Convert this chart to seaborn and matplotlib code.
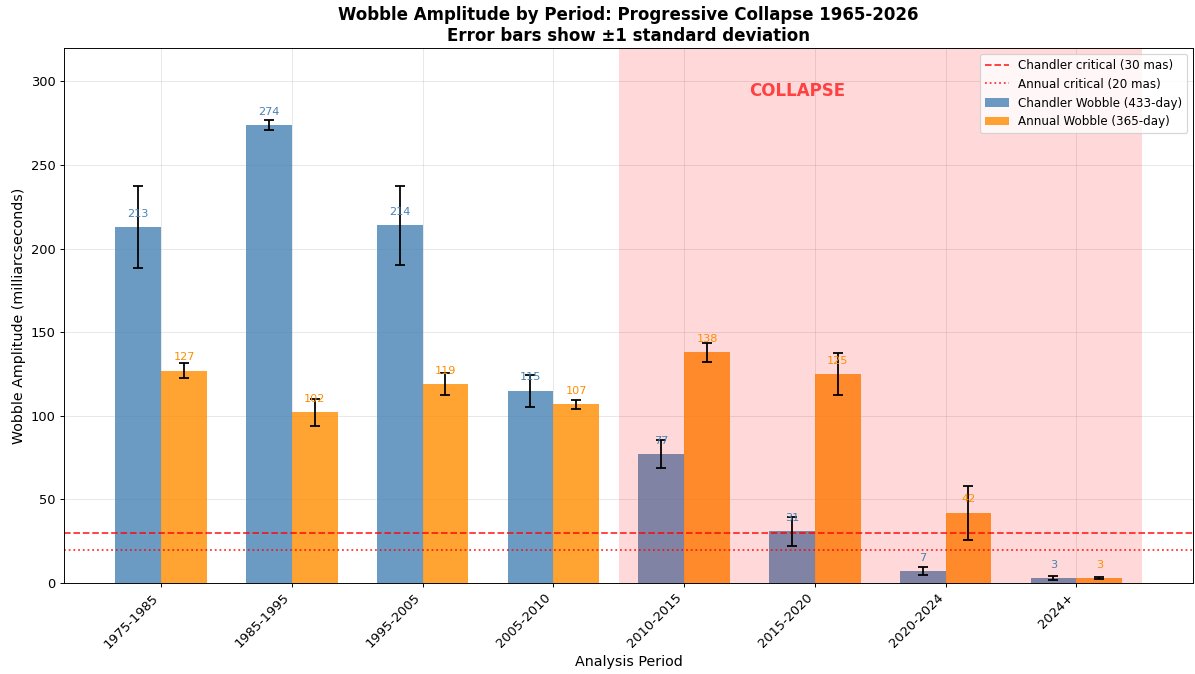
import matplotlib
matplotlib.use("Agg")
import matplotlib.pyplot as plt
from matplotlib.lines import Line2D
from matplotlib.patches import Patch
import seaborn as sns
import pandas as pd

# Analysis periods and wobble amplitudes (milliarcseconds)
periods = ["1975-1985", "1985-1995", "1995-2005", "2005-2010",
           "2010-2015", "2015-2020", "2020-2024", "2024+"]
chandler = [213, 274, 214, 115, 77, 31, 7, 3]
chandler_sd = [24.5, 3, 23.5, 9.5, 8.5, 8.7, 2.5, 1.1]
annual = [127, 102, 119, 107, 138, 125, 42, 3]
annual_sd = [4.4, 8, 6.5, 2.7, 5.6, 12.6, 16, 0.4]

series_names = ["Chandler Wobble (433-day)", "Annual Wobble (365-day)"]
series_colors = ["steelblue", "darkorange"]
chandler_critical = 30
annual_critical = 20

df = pd.DataFrame({
    "period": periods * 2,
    "series": [series_names[0]] * len(periods) + [series_names[1]] * len(periods),
    "value": chandler + annual,
})

DPI = 1195 / 14
fig, ax = plt.subplots(figsize=(14, 674 / DPI), dpi=DPI)
fig.subplots_adjust(left=64 / 1195, right=1193 / 1195,
                    top=1 - 48 / 674, bottom=1 - 583 / 674)

sns.barplot(data=df, x="period", y="value", hue="series", order=periods,
            hue_order=series_names, palette=series_colors, width=0.7, gap=0,
            saturation=1, alpha=0.8, errorbar=None, legend=False, ax=ax)

# Error bars and value labels on top of each bar
for cont, vals, sds, col in zip(ax.containers, [chandler, annual],
                                [chandler_sd, annual_sd], series_colors):
    xs = [b.get_x() + b.get_width() / 2 for b in cont]
    ax.errorbar(xs, vals, yerr=sds, fmt="none", ecolor="black",
                elinewidth=1.5, capsize=4, capthick=1.5, zorder=3)
    for x, v in zip(xs, vals):
        ax.text(x, v + 5, f"{v:.0f}", ha="center", va="bottom",
                fontsize=9.5, color=col, zorder=4)

# Critical thresholds
ax.axhline(chandler_critical, color="red", linestyle="--", linewidth=1.5,
           alpha=0.8, zorder=2.5)
ax.axhline(annual_critical, color="red", linestyle=":", linewidth=1.5,
           alpha=0.8, zorder=2.5)

# Collapse period shading
ax.axvspan(3.5, 7.5, color="red", alpha=0.15, linewidth=0, zorder=2)
ax.text(4.5, 294, "COLLAPSE", ha="left", va="center", fontsize=14,
        fontweight="bold", color="red", alpha=0.7)

ax.set_ylim(0, 320)
ax.set_xlim(-0.35 - 0.3925, 7.5 + 0.3925)
ax.set_xticks(range(len(periods)))
ax.set_xticklabels(periods, rotation=45, ha="right", fontsize=11)
ax.tick_params(axis="y", labelsize=11)
ax.set_xlabel("Analysis Period", fontsize=12)
ax.set_ylabel("Wobble Amplitude (milliarcseconds)", fontsize=12)
ax.set_title("Wobble Amplitude by Period: Progressive Collapse 1965-2026\n"
             "Error bars show \u00b11 standard deviation",
             fontsize=14, fontweight="bold")
ax.grid(True, alpha=0.3)
ax.set_axisbelow(True)

handles = [
    Line2D([], [], color="red", linestyle="--", linewidth=1.5, alpha=0.8),
    Line2D([], [], color="red", linestyle=":", linewidth=1.5, alpha=0.8),
    Patch(facecolor=series_colors[0], alpha=0.8),
    Patch(facecolor=series_colors[1], alpha=0.8),
]
labels = [f"Chandler critical ({chandler_critical} mas)",
          f"Annual critical ({annual_critical} mas)"] + series_names
ax.legend(handles, labels, loc="upper right", fontsize=10)

fig.savefig("out.png", dpi=DPI)
